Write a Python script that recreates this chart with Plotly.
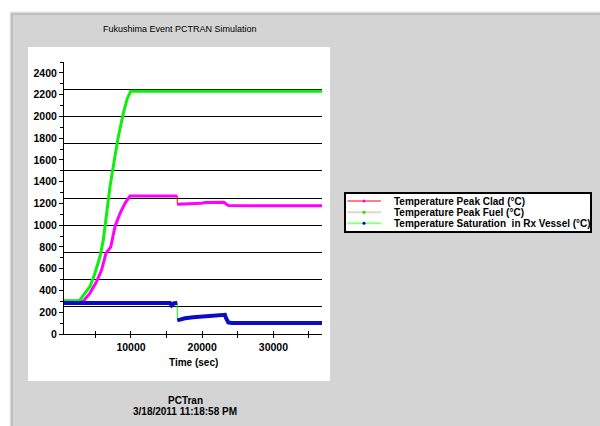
import plotly.graph_objects as go

# ---------------- data ----------------
# Temperature Peak Clad (°C) - two segments (step drop near 16500 s)
clad_t1 = [0, 1000, 2000, 3300, 4240, 5180, 5880, 6490, 7150, 7750, 8460, 9160, 9860, 12000, 15480, 15710, 16040, 16500]
clad_v1 = [300, 300, 300, 302, 376, 483, 590, 743, 798, 987, 1110, 1201, 1269, 1268, 1268, 1262, 1268, 1268]
clad_t2 = [16500, 16880, 18750, 19920, 20400, 22000, 23060, 23670, 30000, 36830]
clad_v2 = [1192, 1193, 1197, 1201, 1209, 1210, 1210, 1180, 1178, 1178]

# Temperature Peak Fuel (°C)
fuel_t = [0, 1000, 2000, 2740, 3540, 4240, 4940, 5650, 6110, 6680, 7050, 7660, 8220, 8920, 9480, 9960, 20000, 36830]
fuel_v = [305, 305, 305, 306, 376, 437, 559, 712, 865, 1171, 1354, 1599, 1813, 2027, 2165, 2232, 2232, 2232]

# Temperature Saturation in Rx Vessel (°C) - two segments
sat_t1 = [0, 5000, 10000, 15480, 15710, 16040, 16500]
sat_v1 = [284, 284, 284, 284, 262, 282, 284]
sat_t2 = [16510, 16880, 17580, 18750, 19920, 20630, 22030, 22970, 23200, 23340, 23670, 24140, 30000, 36830]
sat_v2 = [125, 131, 144, 153, 159, 168, 168, 171, 176, 147, 107, 101, 101, 101]

series_names = ["Temperature Peak Clad (°C)", "Temperature Peak Fuel (°C)",
                "Temperature Saturation  in Rx Vessel (°C)"]

y_tick_vals = [0, 200, 400, 600, 800, 1000, 1200, 1400, 1600, 1800, 2000, 2200, 2400]
y_grid_vals = [250, 500, 750, 1000, 1250, 1500, 1750, 2000, 2250, 2500]
x_tick_vals = [5000, 10000, 15000, 20000, 25000, 30000, 35000]
x_tick_text = ["", "10000", "", "20000", "", "30000", ""]
x_range = [590, 36830]
y_range = [0, 2500]

# ---------------- layout geometry ----------------
W, H = 600, 426
ML, MR, MT, MB = 64, 278, 62, 92
PW = W - ML - MR
PH = H - MT - MB


def fx(px):
    return (px - ML) / PW


def fy(py):
    return (H - MB - py) / PH


FONT = "Liberation Sans, Arial, sans-serif"
C_MAG, C_GRN, C_BLU = "#ff00ff", "#10ee10", "#0c0cc4"

fig = go.Figure()

# thin connector lines (series line colours)
fig.add_trace(go.Scatter(x=clad_t1 + clad_t2, y=clad_v1 + clad_v2, mode="lines",
                         line=dict(color="#ff0000", width=1), showlegend=False, hoverinfo="skip"))
fig.add_trace(go.Scatter(x=fuel_t, y=fuel_v, mode="lines",
                         line=dict(color="#c8a888", width=1), showlegend=False, hoverinfo="skip"))
fig.add_trace(go.Scatter(x=sat_t1 + sat_t2, y=sat_v1 + sat_v2, mode="lines",
                         line=dict(color="#00ff00", width=1), showlegend=False, hoverinfo="skip"))

# thick marker-coloured curves
for tx, vy in [(clad_t1, clad_v1), (clad_t2, clad_v2)]:
    fig.add_trace(go.Scatter(x=tx, y=vy, mode="lines", line=dict(color=C_MAG, width=3),
                             showlegend=False, hoverinfo="skip"))
fig.add_trace(go.Scatter(x=fuel_t, y=fuel_v, mode="lines", line=dict(color=C_GRN, width=3),
                         showlegend=False, hoverinfo="skip"))
for tx, vy in [(sat_t1, sat_v1), (sat_t2, sat_v2)]:
    fig.add_trace(go.Scatter(x=tx, y=vy, mode="lines", line=dict(color=C_BLU, width=4),
                             showlegend=False, hoverinfo="skip"))

# overlay axes: horizontal grid lines and crossing x ticks
fig.add_trace(go.Scatter(x=[None], y=[None], xaxis="x2", yaxis="y2",
                         showlegend=False, hoverinfo="skip"))

# ---------------- custom legend (compact, like the original) ----------------
legend_line = ["#ff8080", "#e4d4c4", "#90ff90"]
legend_mark = [C_MAG, "#00ee00", "#0000cc"]
legend_rows_px = [201, 212.3, 223.3]

shapes = [
    dict(type="rect", xref="paper", yref="paper", x0=fx(10), x1=fx(602), y0=fy(12), y1=fy(427),
         fillcolor="#d4d4d4", line=dict(color="#e6e6e6", width=1), layer="below"),
    dict(type="line", xref="paper", yref="paper", x0=fx(12), x1=fx(602), y0=fy(14), y1=fy(14),
         line=dict(color="#a8a8a8", width=1), layer="below"),
    dict(type="line", xref="paper", yref="paper", x0=fx(12), x1=fx(12), y0=fy(14), y1=fy(427),
         line=dict(color="#a8a8a8", width=1), layer="below"),
    dict(type="rect", xref="paper", yref="paper", x0=fx(28), x1=fx(330), y0=fy(47), y1=fy(381),
         fillcolor="#ffffff", line=dict(width=0), layer="below"),
    dict(type="rect", xref="paper", yref="paper", x0=fx(345), x1=fx(591), y0=fy(193), y1=fy(232),
         fillcolor="#ffffff", line=dict(color="#000000", width=2), layer="above"),
]
annotations = []
for nm, lc, mc, ry in zip(series_names, legend_line, legend_mark, legend_rows_px):
    shapes.append(dict(type="line", xref="paper", yref="paper", x0=fx(347.5), x1=fx(381),
                       y0=fy(ry), y1=fy(ry), line=dict(color=lc, width=2), layer="above"))
    shapes.append(dict(type="circle", xref="paper", yref="paper", x0=fx(362.5), x1=fx(365.5),
                       y0=fy(ry - 1.5), y1=fy(ry + 1.5), fillcolor=mc, line=dict(width=0),
                       layer="above"))
    annotations.append(dict(text=nm, xref="paper", yref="paper", x=fx(391.5), y=fy(ry),
                            xanchor="left", yanchor="middle", showarrow=False,
                            font=dict(family=FONT, size=10, color="#000000", weight="bold")))

annotations += [
    dict(text="Fukushima Event PCTRAN Simulation", xref="paper", yref="paper",
         x=fx(180), y=fy(29), xanchor="center", yanchor="middle", showarrow=False,
         font=dict(family=FONT, size=9, color="#000000")),
    dict(text="Time (sec)", xref="paper", yref="paper", x=fx(193), y=fy(362),
         xanchor="center", yanchor="middle", showarrow=False,
         font=dict(family=FONT, size=10, color="#000000", weight="bold")),
    dict(text="PCTran", xref="paper", yref="paper", x=fx(185), y=fy(400),
         xanchor="center", yanchor="middle", showarrow=False,
         font=dict(family=FONT, size=10, color="#000000", weight="bold")),
    dict(text="3/18/2011 11:18:58 PM", xref="paper", yref="paper", x=fx(185), y=fy(411),
         xanchor="center", yanchor="middle", showarrow=False,
         font=dict(family=FONT, size=10, color="#000000", weight="bold")),
]

tickfont = dict(family=FONT, size=10.5, color="#000000", weight="bold")

fig.update_layout(
    width=W, height=H,
    margin=dict(l=ML, r=MR, t=MT, b=MB, pad=0, autoexpand=False),
    paper_bgcolor="#ffffff",
    plot_bgcolor="#ffffff",
    font=dict(family=FONT, size=11, color="#000000"),
    showlegend=False,
    xaxis=dict(range=x_range, tickvals=x_tick_vals, ticktext=x_tick_text,
               ticks="outside", ticklen=3, tickcolor="#000000", showline=True,
               linecolor="#000000", linewidth=1, showgrid=False, zeroline=False,
               tickfont=tickfont),
    xaxis2=dict(range=x_range, overlaying="x", tickvals=x_tick_vals, ticks="inside",
                ticklen=3, tickcolor="#000000", showticklabels=False, showgrid=False,
                zeroline=False, showline=False, side="bottom", anchor="y"),
    yaxis=dict(range=y_range, tickvals=y_tick_vals, ticks="outside", ticklen=4,
               tickcolor="#000000", showline=True, linecolor="#000000", linewidth=1,
               showgrid=False, zeroline=False,
               minor=dict(tickmode="linear", tick0=0, dtick=100, ticks="outside",
                          ticklen=3, tickcolor="#000000", showgrid=False),
               tickfont=tickfont),
    yaxis2=dict(range=y_range, overlaying="y", tickvals=y_grid_vals, showgrid=True,
                gridcolor="#000000", gridwidth=1, showticklabels=False, ticks="",
                zeroline=False, showline=False, anchor="x"),
    shapes=shapes,
    annotations=annotations,
)

fig.write_html("out.html", config={"displayModeBar": False},
               post_script="document.body.style.margin='0px';document.body.style.overflow='hidden';")
